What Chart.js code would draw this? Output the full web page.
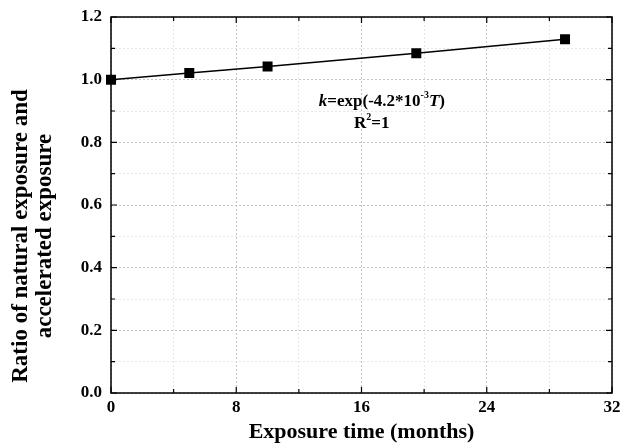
<!DOCTYPE html>
<html>
<head>
<meta charset="utf-8">
<script src="https://cdn.jsdelivr.net/npm/chart.js@4"></script>
<style>
  html, body { margin: 0; padding: 0; background: #fff; }
  #wrap { width: 624px; height: 446px; }
</style>
</head>
<body>
<div id="wrap"><canvas id="chart"></canvas></div>
<script>
// values
const exposureMonths = [0, 5, 10, 19.5, 29];
const ratioValues = [1.0, 1.021, 1.042, 1.084, 1.129];
const xMajorTicks = [0, 8, 16, 24, 32];
const yMajorTicks = [0.0, 0.2, 0.4, 0.6, 0.8, 1.0, 1.2];
const yTitleLines = ['Ratio of natural exposure and', 'accelerated exposure'];

const FONT = "'Liberation Serif', 'Times New Roman', serif";

function isMajorX(v) { return xMajorTicks.includes(v); }
function isMajorY(v) { return yMajorTicks.some(t => Math.abs(t - v) < 1e-6); }

// frame + inward ticks on all four sides
const framePlugin = {
    id: 'frame',
    beforeDatasetsDraw(chart) {
        const { ctx, chartArea: a, scales } = chart;
        ctx.save();
        ctx.strokeStyle = '#000';
        ctx.lineWidth = 1.5;
        ctx.strokeRect(a.left, a.top, a.right - a.left, a.bottom - a.top);
        ctx.lineWidth = 1.2;
        ctx.beginPath();
        for (let v = 0; v <= 32; v += 4) {
            const x = scales.x.getPixelForValue(v);
            const len = isMajorX(v) ? 6 : 4;
            ctx.moveTo(x, a.bottom); ctx.lineTo(x, a.bottom - len);
            ctx.moveTo(x, a.top); ctx.lineTo(x, a.top + len);
        }
        for (let i = 0; i <= 12; i++) {
            const v = i / 10;
            const y = scales.y.getPixelForValue(v);
            const len = isMajorY(v) ? 6 : 4;
            ctx.moveTo(a.left, y); ctx.lineTo(a.left + len, y);
            ctx.moveTo(a.right, y); ctx.lineTo(a.right - len, y);
        }
        ctx.stroke();
        ctx.restore();
    },
    afterDraw(chart) {
        // two-line y title, sits a bit below the plot centre like the original
        const { ctx } = chart;
        ctx.save();
        ctx.translate(0, 236);
        ctx.rotate(-Math.PI / 2);
        ctx.fillStyle = '#000';
        ctx.font = 'bold 23px ' + FONT;
        ctx.textAlign = 'center';
        ctx.textBaseline = 'middle';
        ctx.fillText(yTitleLines[0], 0, 21);
        ctx.fillText(yTitleLines[1], 0, 45);
        ctx.restore();
    }
};

function drawRich(ctx, parts, cx, baseY) {
    let total = 0;
    parts.forEach(p => { ctx.font = p.f; p.w = ctx.measureText(p.t).width; total += p.w; });
    let x = cx - total / 2;
    parts.forEach(p => { ctx.font = p.f; ctx.fillText(p.t, x, baseY + p.dy); x += p.w; });
}

// fit equation text
const equationPlugin = {
    id: 'equation',
    afterDatasetsDraw(chart) {
        const { ctx, scales } = chart;
        ctx.save();
        ctx.fillStyle = '#000';
        ctx.textBaseline = 'alphabetic';
        drawRich(ctx, [
            { t: 'k', f: 'italic bold 17px ' + FONT, dy: 0 },
            { t: '=exp(-4.2*10', f: 'bold 17px ' + FONT, dy: 0 },
            { t: '-3', f: 'bold 10px ' + FONT, dy: -8 },
            { t: 'T', f: 'italic bold 17px ' + FONT, dy: 0 },
            { t: ')', f: 'bold 17px ' + FONT, dy: 0 }
        ], scales.x.getPixelForValue(17.3), scales.y.getPixelForValue(0.915));
        drawRich(ctx, [
            { t: 'R', f: 'bold 17px ' + FONT, dy: 0 },
            { t: '2', f: 'bold 10px ' + FONT, dy: -8 },
            { t: '=1', f: 'bold 17px ' + FONT, dy: 0 }
        ], scales.x.getPixelForValue(16.65), scales.y.getPixelForValue(0.845));
        ctx.restore();
    }
};

new Chart(document.getElementById('chart'), {
    type: 'scatter',
    data: {
        datasets: [{
            data: exposureMonths.map((m, i) => ({ x: m, y: ratioValues[i] })),
            showLine: true,
            borderColor: '#000',
            backgroundColor: '#000',
            borderWidth: 1.5,
            pointStyle: 'rect',
            pointRadius: 6,
            pointHoverRadius: 6,
            tension: 0,
            clip: false
        }]
    },
    options: {
        responsive: true,
        maintainAspectRatio: false,
        animation: false,
        layout: { padding: { top: 17, right: 12, left: 0, bottom: 0 } },
        plugins: {
            legend: { display: false },
            tooltip: { enabled: false }
        },
        scales: {
            x: {
                type: 'linear',
                min: 0,
                max: 32,
                afterFit(s) { s.height = 53; s.paddingLeft = 0; s.paddingRight = 0; },
                ticks: {
                    stepSize: 4,
                    color: '#000',
                    font: { family: FONT, size: 17, weight: 'bold' },
                    padding: 4,
                    maxRotation: 0,
                    autoSkip: false,
                    callback: v => isMajorX(v) ? String(v) : ''
                },
                grid: {
                    drawTicks: false,
                    color: ctx => isMajorX(ctx.tick.value) ? '#c4c4c4' : '#e6e6e6',
                    lineWidth: 1
                },
                border: { display: false, dash: [2, 2] },
                title: {
                    display: true,
                    text: 'Exposure time (months)',
                    color: '#000',
                    font: { family: FONT, size: 22, weight: 'bold' },
                    padding: { top: 0, bottom: 0 }
                }
            },
            y: {
                min: 0,
                max: 1.2,
                afterFit(s) { s.width = 111; s.paddingTop = 0; s.paddingBottom = 0; },
                ticks: {
                    stepSize: 0.1,
                    color: '#000',
                    font: { family: FONT, size: 17, weight: 'bold' },
                    padding: 9,
                    autoSkip: false,
                    callback: v => isMajorY(v) ? Number(v).toFixed(1) : ''
                },
                grid: {
                    drawTicks: false,
                    color: ctx => isMajorY(ctx.tick.value) ? '#c4c4c4' : '#e6e6e6',
                    lineWidth: 1
                },
                border: { display: false, dash: [2, 2] },
                title: { display: false }
            }
        }
    },
    plugins: [framePlugin, equationPlugin]
});
</script>
</body>
</html>
